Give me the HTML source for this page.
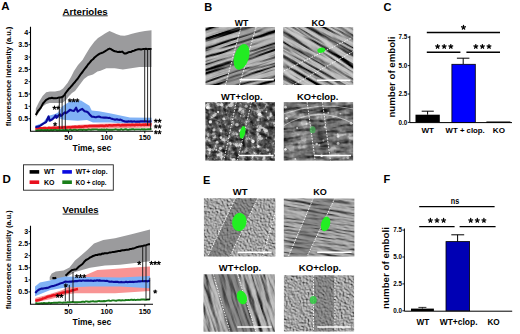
<!DOCTYPE html>
<html><head><meta charset="utf-8"><style>
html,body{margin:0;padding:0;background:#fff;width:520px;height:334px;overflow:hidden}
svg{display:block}
</style></head><body>
<svg width="520" height="334" viewBox="0 0 520 334">
<defs><filter id="blur06" x="-20%" y="-20%" width="140%" height="140%"><feGaussianBlur stdDeviation="0.55"/></filter><clipPath id="c1"><rect x="205.5" y="27" width="69.5" height="58"/></clipPath><filter id="f1" x="0" y="0" width="1" height="1" color-interpolation-filters="sRGB"><feTurbulence type="fractalNoise" baseFrequency="0.012 0.2" numOctaves="5" seed="3" result="n"/><feDiffuseLighting in="n" surfaceScale="4" diffuseConstant="1" lighting-color="#fff"><feDistantLight azimuth="135" elevation="50"/></feDiffuseLighting><feComponentTransfer><feFuncR type="linear" slope="1.165" intercept="-0.300"/><feFuncG type="linear" slope="1.165" intercept="-0.300"/><feFuncB type="linear" slope="1.165" intercept="-0.300"/></feComponentTransfer></filter><clipPath id="c2"><rect x="283.2" y="27" width="70" height="58"/></clipPath><filter id="f2" x="0" y="0" width="1" height="1" color-interpolation-filters="sRGB"><feTurbulence type="fractalNoise" baseFrequency="0.012 0.2" numOctaves="5" seed="5" result="n"/><feDiffuseLighting in="n" surfaceScale="4" diffuseConstant="1" lighting-color="#fff"><feDistantLight azimuth="135" elevation="50"/></feDiffuseLighting><feComponentTransfer><feFuncR type="linear" slope="1.049" intercept="-0.160"/><feFuncG type="linear" slope="1.049" intercept="-0.160"/><feFuncB type="linear" slope="1.049" intercept="-0.160"/></feComponentTransfer></filter><clipPath id="c3"><rect x="205.5" y="102.2" width="69.5" height="58.2"/></clipPath><filter id="f3" x="0" y="0" width="1" height="1" color-interpolation-filters="sRGB"><feTurbulence type="fractalNoise" baseFrequency="0.15 0.15" numOctaves="3" seed="7" result="n"/><feDiffuseLighting in="n" surfaceScale="3" diffuseConstant="1" lighting-color="#fff"><feDistantLight azimuth="135" elevation="45"/></feDiffuseLighting><feComponentTransfer><feFuncR type="linear" slope="0.890" intercept="-0.201"/><feFuncG type="linear" slope="0.890" intercept="-0.201"/><feFuncB type="linear" slope="0.890" intercept="-0.201"/></feComponentTransfer></filter><filter id="t3" x="0" y="0" width="1" height="1" color-interpolation-filters="sRGB"><feTurbulence type="fractalNoise" baseFrequency="0.18 0.18" numOctaves="3" seed="31"/><feColorMatrix type="matrix" values="2.5 0 0 0 -0.75 2.5 0 0 0 -0.75 2.5 0 0 0 -0.75 0 0 0 0 1"/><feComponentTransfer><feFuncR type="table" tableValues="0.1 0.15 0.22 0.3 0.42 0.65 0.95"/><feFuncG type="table" tableValues="0.1 0.15 0.22 0.3 0.42 0.65 0.95"/><feFuncB type="table" tableValues="0.1 0.15 0.22 0.3 0.42 0.65 0.95"/></feComponentTransfer></filter><clipPath id="c4"><rect x="283.8" y="102.2" width="69.3" height="58.2"/></clipPath><filter id="f4" x="0" y="0" width="1" height="1" color-interpolation-filters="sRGB"><feTurbulence type="fractalNoise" baseFrequency="0.04 0.2" numOctaves="4" seed="9" result="n"/><feDiffuseLighting in="n" surfaceScale="3" diffuseConstant="1" lighting-color="#fff"><feDistantLight azimuth="135" elevation="50"/></feDiffuseLighting><feComponentTransfer><feFuncR type="linear" slope="1.109" intercept="-0.373"/><feFuncG type="linear" slope="1.109" intercept="-0.373"/><feFuncB type="linear" slope="1.109" intercept="-0.373"/></feComponentTransfer></filter><filter id="t4" x="0" y="0" width="1" height="1" color-interpolation-filters="sRGB"><feTurbulence type="fractalNoise" baseFrequency="0.1 0.1" numOctaves="3" seed="33"/><feColorMatrix type="matrix" values="2.5 0 0 0 -0.75 2.5 0 0 0 -0.75 2.5 0 0 0 -0.75 0 0 0 0 1"/><feComponentTransfer><feFuncR type="table" tableValues="0.15 0.22 0.3 0.4 0.5 0.65 0.9"/><feFuncG type="table" tableValues="0.15 0.22 0.3 0.4 0.5 0.65 0.9"/><feFuncB type="table" tableValues="0.15 0.22 0.3 0.4 0.5 0.65 0.9"/></feComponentTransfer></filter><clipPath id="c5"><rect x="203.9" y="198.2" width="71.5" height="58.2"/></clipPath><filter id="f5" x="0" y="0" width="1" height="1" color-interpolation-filters="sRGB"><feTurbulence type="fractalNoise" baseFrequency="0.6 0.6" numOctaves="3" seed="11" result="n"/><feDiffuseLighting in="n" surfaceScale="1.5" diffuseConstant="1" lighting-color="#fff"><feDistantLight azimuth="135" elevation="55"/></feDiffuseLighting><feComponentTransfer><feFuncR type="linear" slope="1.008" intercept="-0.182"/><feFuncG type="linear" slope="1.008" intercept="-0.182"/><feFuncB type="linear" slope="1.008" intercept="-0.182"/></feComponentTransfer></filter><clipPath id="c6"><rect x="283.8" y="198.5" width="70.6" height="57.9"/></clipPath><filter id="f6" x="0" y="0" width="1" height="1" color-interpolation-filters="sRGB"><feTurbulence type="fractalNoise" baseFrequency="0.03 0.5" numOctaves="4" seed="13" result="n"/><feDiffuseLighting in="n" surfaceScale="3" diffuseConstant="1" lighting-color="#fff"><feDistantLight azimuth="135" elevation="50"/></feDiffuseLighting><feComponentTransfer><feFuncR type="linear" slope="0.692" intercept="0.099"/><feFuncG type="linear" slope="0.692" intercept="0.099"/><feFuncB type="linear" slope="0.692" intercept="0.099"/></feComponentTransfer></filter><clipPath id="c7"><rect x="203.5" y="274.3" width="71.4" height="57.4"/></clipPath><filter id="f7" x="0" y="0" width="1" height="1" color-interpolation-filters="sRGB"><feTurbulence type="fractalNoise" baseFrequency="0.025 0.25" numOctaves="4" seed="15" result="n"/><feDiffuseLighting in="n" surfaceScale="3" diffuseConstant="1" lighting-color="#fff"><feDistantLight azimuth="135" elevation="50"/></feDiffuseLighting><feComponentTransfer><feFuncR type="linear" slope="0.859" intercept="-0.022"/><feFuncG type="linear" slope="0.859" intercept="-0.022"/><feFuncB type="linear" slope="0.859" intercept="-0.022"/></feComponentTransfer></filter><clipPath id="c8"><rect x="283.9" y="275.2" width="70.2" height="56.4"/></clipPath><filter id="f8" x="0" y="0" width="1" height="1" color-interpolation-filters="sRGB"><feTurbulence type="fractalNoise" baseFrequency="0.6 0.6" numOctaves="3" seed="17" result="n"/><feDiffuseLighting in="n" surfaceScale="1.5" diffuseConstant="1" lighting-color="#fff"><feDistantLight azimuth="135" elevation="55"/></feDiffuseLighting><feComponentTransfer><feFuncR type="linear" slope="1.023" intercept="-0.195"/><feFuncG type="linear" slope="1.023" intercept="-0.195"/><feFuncB type="linear" slope="1.023" intercept="-0.195"/></feComponentTransfer></filter></defs>
<rect width="520" height="334" fill="#fff"/>
<text x="1.2" y="10.3" font-size="11.5" text-anchor="start" font-family="Liberation Sans, sans-serif" font-weight="bold" >A</text>
<text x="2.5" y="183.2" font-size="11.5" text-anchor="start" font-family="Liberation Sans, sans-serif" font-weight="bold" >D</text>
<text x="204.2" y="10.8" font-size="11" text-anchor="start" font-family="Liberation Sans, sans-serif" font-weight="bold" >B</text>
<text x="203.0" y="184.4" font-size="11" text-anchor="start" font-family="Liberation Sans, sans-serif" font-weight="bold" >E</text>
<text x="383.6" y="10.9" font-size="11" text-anchor="start" font-family="Liberation Sans, sans-serif" font-weight="bold" >C</text>
<text x="383.6" y="183.2" font-size="11" text-anchor="start" font-family="Liberation Sans, sans-serif" font-weight="bold" >F</text>
<polygon points="35.8,108.5 39.0,102.0 42.6,96.0 46.2,92.3 50.0,91.4 55.0,91.4 60.0,90.5 63.0,88.5 67.5,83.0 71.0,77.0 74.0,71.0 78.0,65.0 82.5,60.0 86.0,54.0 90.0,47.5 94.5,41.5 98.0,38.0 102.0,35.5 105.0,33.5 109.5,31.0 113.0,32.5 116.3,34.1 120.5,35.5 124.5,35.7 128.0,35.0 131.1,34.1 135.0,33.0 139.4,31.9 145.0,31.0 151.5,30.3 151.5,67.0 139.4,67.0 131.1,68.2 122.9,69.5 114.7,68.2 106.4,68.2 100.5,70.7 97.4,71.5 93.0,74.5 88.0,76.0 84.0,79.0 79.5,84.9 75.0,90.9 72.0,93.0 69.0,96.0 66.0,100.0 62.3,103.1 55.0,103.1 49.8,103.1 46.2,104.0 42.6,106.5 38.0,114.0 35.8,117.0" fill="#9b9b9d" fill-opacity="1" stroke="none"/>
<polygon points="35.4,125.7 43.0,122.5 48.0,116.0 55.0,114.0 58.0,112.5 62.0,106.5 65.9,104.0 70.7,101.0 77.8,100.4 81.0,100.4 84.6,102.8 89.4,105.8 91.7,110.6 98.9,111.2 110.9,113.6 122.8,116.0 130.0,117.5 151.5,117.8 151.5,123.7 125.0,123.7 110.9,122.5 93.0,122.5 87.0,120.1 77.8,120.7 65.9,120.1 62.0,119.5 58.0,117.5 55.0,118.5 48.0,121.5 43.0,125.0 35.4,127.7" fill="#80b2f6" fill-opacity="1" stroke="none"/>
<polygon points="35.4,127.2 80.0,124.8 100.0,123.8 125.0,123.3 151.5,122.8 151.5,127.5 80.0,129.0 35.4,130.0" fill="#f89494" fill-opacity="1" stroke="none"/>
<polyline points="35.8,115.0 38.0,111.0 39.4,109.5 40.8,107.6 43.0,103.5 44.6,101.7 46.2,99.8 47.6,99.1 49.0,98.3 50.5,98.3 52.0,97.8 53.3,98.2 54.7,98.3 56.0,98.2 57.3,98.0 58.7,97.6 60.0,97.5 61.5,97.3 63.0,96.5 64.5,94.8 66.0,92.5 67.5,90.6 69.0,88.7 70.5,87.2 72.0,85.5 73.5,83.7 75.0,82.0 76.2,80.4 77.5,79.0 79.5,76.0 81.0,73.8 82.5,72.0 84.0,69.8 85.4,68.0 86.7,66.5 88.0,64.5 89.7,62.6 91.4,60.5 93.0,59.3 94.5,57.5 95.7,56.6 97.0,55.5 98.2,54.7 99.8,53.6 101.5,53.0 103.2,52.3 104.8,51.4 107.0,50.0 108.3,49.1 109.7,48.6 111.0,49.1 112.2,50.0 113.5,50.7 115.0,51.3 116.5,51.6 118.0,52.1 119.4,51.7 120.7,52.0 122.1,51.6 124.4,53.6 125.7,53.5 127.0,53.0 128.3,52.3 129.6,52.1 131.1,51.9 132.7,50.9 134.2,50.7 135.6,50.0 136.9,49.6 138.3,49.2 139.7,49.2 141.1,49.5 142.8,49.1 144.6,49.0 146.0,48.7 147.4,49.3 148.7,48.9 150.1,48.9 151.5,49.0" fill="none" stroke="#000" stroke-width="2.0" stroke-linejoin="round" stroke-linecap="butt"/>
<polyline points="35.4,128.6 36.6,128.5 37.8,128.5 39.0,128.3 40.3,128.2 41.5,128.3 42.7,128.3 43.9,128.1 45.1,128.0 46.4,128.4 47.6,128.4 48.8,127.8 50.0,128.1 51.2,128.3 52.4,128.0 53.6,127.7 54.8,128.0 56.0,128.0 57.2,128.0 58.4,127.5 59.6,127.7 60.8,127.8 62.0,127.5 63.2,127.7 64.4,127.2 65.6,127.6 66.8,127.6 68.0,127.3 69.2,127.2 70.4,127.4 71.6,127.2 72.8,127.0 74.0,127.0 75.2,126.8 76.4,127.0 77.6,127.1 78.8,126.5 80.0,126.7 81.2,126.7 82.5,126.7 83.8,126.5 85.0,126.2 86.2,126.3 87.5,126.4 88.8,126.1 90.0,126.0 91.2,126.0 92.5,125.9 93.8,126.1 95.0,126.1 96.2,125.9 97.5,125.9 98.8,126.1 100.0,125.8 101.2,125.8 102.5,125.7 103.8,125.9 105.0,125.9 106.2,125.4 107.5,125.8 108.8,125.3 110.0,125.3 111.2,125.6 112.5,125.4 113.8,125.2 115.0,125.2 116.2,125.2 117.5,125.1 118.8,125.0 120.0,125.4 121.2,125.4 122.5,125.0 123.8,125.3 125.0,125.1 126.2,125.3 127.4,124.9 128.6,125.0 129.8,125.0 131.0,125.2 132.2,124.7 133.4,124.9 134.6,125.2 135.8,124.8 137.0,124.7 138.2,124.9 139.5,124.6 140.7,125.0 141.9,124.9 143.1,124.6 144.3,125.0 145.5,124.5 146.7,124.7 147.9,124.7 149.1,124.7 150.3,124.4 151.5,124.6" fill="none" stroke="#e8141e" stroke-width="2.5" stroke-linejoin="round" stroke-linecap="butt"/>
<polyline points="35.4,130.3 36.6,130.6 37.8,130.3 39.0,130.4 40.2,130.2 41.4,130.0 42.6,130.1 43.8,130.3 45.0,129.9 46.2,130.5 47.5,129.9 48.7,130.3 49.9,130.2 51.1,129.8 52.3,130.2 53.5,130.0 54.7,129.9 55.9,129.8 57.1,130.3 58.3,130.1 59.5,129.8 60.7,130.1 61.9,130.1 63.1,130.0 64.3,130.1 65.5,130.0 66.7,129.8 67.9,130.1 69.2,129.9 70.4,129.6 71.6,130.1 72.8,130.0 74.0,129.8 75.2,129.6 76.4,130.0 77.6,130.1 78.8,129.8 80.0,129.8 81.2,129.6 82.4,130.0 83.6,129.7 84.8,129.9 86.1,130.0 87.3,129.9 88.5,129.5 89.7,129.6 90.9,129.9 92.1,129.5 93.3,129.5 94.5,129.4 95.8,129.4 97.0,129.4 98.2,129.9 99.4,129.6 100.6,129.7 101.8,129.5 103.0,129.9 104.2,129.5 105.4,129.8 106.7,129.3 107.9,129.7 109.1,129.7 110.3,129.6 111.5,129.8 112.7,129.7 113.9,129.6 115.1,129.3 116.4,129.4 117.6,129.8 118.8,129.7 120.0,129.8 121.2,129.2 122.4,129.7 123.6,129.7 124.8,129.3 126.1,129.2 127.3,129.8 128.5,129.8 129.7,129.5 130.9,129.5 132.1,129.2 133.3,129.2 134.5,129.7 135.7,129.4 137.0,129.4 138.2,129.4 139.4,129.4 140.6,129.6 141.8,129.1 143.0,129.5 144.2,129.3 145.4,129.5 146.7,129.4 147.9,129.3 149.1,129.3 150.3,129.2 151.5,129.3" fill="none" stroke="#1a7a1a" stroke-width="1.9" stroke-linejoin="round" stroke-linecap="butt"/>
<polyline points="35.4,126.7 36.6,126.9 37.8,126.6 39.0,126.4 40.4,125.6 41.8,124.7 43.2,123.7 44.7,122.8 46.1,122.0 47.9,118.0 48.6,116.4 49.7,120.7 51.5,119.8 53.3,118.4 54.5,117.0 55.7,115.4 56.5,117.8 58.2,115.8 59.9,114.2 61.0,116.0 62.2,115.0 63.5,113.5 64.7,112.4 66.0,113.2 67.3,112.1 68.6,111.2 69.9,109.7 71.8,110.5 74.0,111.0 76.1,107.7 77.7,111.6 80.0,110.0 82.3,108.9 84.6,111.2 85.8,111.5 87.0,111.8 88.2,112.7 89.4,114.2 91.7,116.6 93.5,116.7 95.3,117.2 96.5,117.1 97.7,116.7 98.9,116.6 100.7,117.3 102.5,117.5 104.1,117.6 105.7,117.5 107.3,117.8 108.5,118.0 109.7,117.9 110.9,118.4 112.7,119.1 114.5,119.6 115.7,119.6 116.9,119.3 118.1,119.8 119.3,119.9 120.5,119.6 122.8,120.7 125.0,121.5 126.2,121.6 127.4,121.6 128.6,121.4 129.8,121.5 131.0,121.4 132.2,121.6 133.4,121.5 134.6,121.4 135.8,121.7 137.0,121.6 138.2,121.6 139.5,121.6 140.7,121.4 141.9,121.4 143.1,121.3 144.3,121.6 145.5,121.2 146.7,121.4 147.9,121.5 149.1,121.6 150.3,121.4 151.5,121.3" fill="none" stroke="#0a0a9c" stroke-width="2.1" stroke-linejoin="round" stroke-linecap="butt"/>
<line x1="59.3" y1="97.6" x2="59.3" y2="128.5" stroke="#111" stroke-width="0.9"/>
<line x1="62.1" y1="97.4" x2="62.1" y2="128.5" stroke="#111" stroke-width="0.9"/>
<line x1="65.3" y1="94.2" x2="65.3" y2="130" stroke="#111" stroke-width="0.9"/>
<line x1="144.7" y1="49" x2="144.7" y2="121.5" stroke="#111" stroke-width="0.9"/>
<line x1="147.6" y1="48.8" x2="147.6" y2="125.5" stroke="#111" stroke-width="0.9"/>
<line x1="150.6" y1="48.6" x2="150.6" y2="129.5" stroke="#111" stroke-width="0.9"/>
<path d="M30.5,26.8 V131.2 H153" fill="none" stroke="#000" stroke-width="1.1"/>
<line x1="28.6" y1="32.4" x2="30.5" y2="32.4" stroke="#000" stroke-width="0.9"/>
<text x="28.2" y="34.900000000000006" font-size="7.1" text-anchor="end" font-family="Liberation Sans, sans-serif" font-weight="bold" >4</text>
<line x1="28.6" y1="44.7" x2="30.5" y2="44.7" stroke="#000" stroke-width="0.9"/>
<text x="28.2" y="47.22500000000001" font-size="7.1" text-anchor="end" font-family="Liberation Sans, sans-serif" font-weight="bold" >3.5</text>
<line x1="28.6" y1="57.1" x2="30.5" y2="57.1" stroke="#000" stroke-width="0.9"/>
<text x="28.2" y="59.55000000000001" font-size="7.1" text-anchor="end" font-family="Liberation Sans, sans-serif" font-weight="bold" >3</text>
<line x1="28.6" y1="69.4" x2="30.5" y2="69.4" stroke="#000" stroke-width="0.9"/>
<text x="28.2" y="71.875" font-size="7.1" text-anchor="end" font-family="Liberation Sans, sans-serif" font-weight="bold" >2.5</text>
<line x1="28.6" y1="81.7" x2="30.5" y2="81.7" stroke="#000" stroke-width="0.9"/>
<text x="28.2" y="84.2" font-size="7.1" text-anchor="end" font-family="Liberation Sans, sans-serif" font-weight="bold" >2</text>
<line x1="28.6" y1="94.0" x2="30.5" y2="94.0" stroke="#000" stroke-width="0.9"/>
<text x="28.2" y="96.525" font-size="7.1" text-anchor="end" font-family="Liberation Sans, sans-serif" font-weight="bold" >1.5</text>
<line x1="28.6" y1="106.3" x2="30.5" y2="106.3" stroke="#000" stroke-width="0.9"/>
<text x="28.2" y="108.85" font-size="7.1" text-anchor="end" font-family="Liberation Sans, sans-serif" font-weight="bold" >1</text>
<line x1="28.6" y1="118.7" x2="30.5" y2="118.7" stroke="#000" stroke-width="0.9"/>
<text x="28.2" y="121.175" font-size="7.1" text-anchor="end" font-family="Liberation Sans, sans-serif" font-weight="bold" >0.5</text>
<line x1="68.5" y1="131" x2="68.5" y2="133.3" stroke="#000" stroke-width="0.9"/>
<text x="68.475" y="140.2" font-size="7.4" text-anchor="middle" font-family="Liberation Sans, sans-serif" font-weight="bold" >50</text>
<line x1="106.6" y1="131" x2="106.6" y2="133.3" stroke="#000" stroke-width="0.9"/>
<text x="106.64999999999999" y="140.2" font-size="7.4" text-anchor="middle" font-family="Liberation Sans, sans-serif" font-weight="bold" >100</text>
<line x1="144.8" y1="131" x2="144.8" y2="133.3" stroke="#000" stroke-width="0.9"/>
<text x="144.825" y="140.2" font-size="7.4" text-anchor="middle" font-family="Liberation Sans, sans-serif" font-weight="bold" >150</text>
<text x="72.6" y="150.7" font-size="8.7" text-anchor="start" textLength="38.6" lengthAdjust="spacingAndGlyphs" font-family="Liberation Sans, sans-serif" font-weight="bold" >Time, sec</text>
<text transform="translate(10.7,76.4) rotate(-90)" x="0" y="0" font-size="7.4" text-anchor="middle" textLength="99.5" lengthAdjust="spacingAndGlyphs" font-family="Liberation Sans, sans-serif" font-weight="bold">fluorescence intensity (a.u.)</text>
<text x="62.6" y="14.8" font-size="9.4" text-anchor="start" textLength="45.1" lengthAdjust="spacingAndGlyphs" font-family="Liberation Sans, sans-serif" font-weight="bold" >Arterioles</text>
<line x1="62.6" y1="15.8" x2="107.7" y2="15.8" stroke="#000" stroke-width="0.8"/>
<path d="M54.45,107.80L54.45,106.15M54.45,107.80L56.02,107.29M54.45,107.80L55.42,109.13M54.45,107.80L53.48,109.13M54.45,107.80L52.88,107.29" stroke="#000" stroke-width="1.1" stroke-linecap="round" fill="none"/>
<path d="M58.15,107.80L58.15,106.15M58.15,107.80L59.72,107.29M58.15,107.80L59.12,109.13M58.15,107.80L57.18,109.13M58.15,107.80L56.58,107.29" stroke="#000" stroke-width="1.1" stroke-linecap="round" fill="none"/>
<path d="M55.10,124.30L55.10,122.65M55.10,124.30L56.67,123.79M55.10,124.30L56.07,125.63M55.10,124.30L54.13,125.63M55.10,124.30L53.53,123.79" stroke="#000" stroke-width="1.1" stroke-linecap="round" fill="none"/>
<path d="M69.90,100.40L69.90,98.75M69.90,100.40L71.47,99.89M69.90,100.40L70.87,101.73M69.90,100.40L68.93,101.73M69.90,100.40L68.33,99.89" stroke="#000" stroke-width="1.1" stroke-linecap="round" fill="none"/>
<path d="M73.60,100.40L73.60,98.75M73.60,100.40L75.17,99.89M73.60,100.40L74.57,101.73M73.60,100.40L72.63,101.73M73.60,100.40L72.03,99.89" stroke="#000" stroke-width="1.1" stroke-linecap="round" fill="none"/>
<path d="M77.30,100.40L77.30,98.75M77.30,100.40L78.87,99.89M77.30,100.40L78.27,101.73M77.30,100.40L76.33,101.73M77.30,100.40L75.73,99.89" stroke="#000" stroke-width="1.1" stroke-linecap="round" fill="none"/>
<path d="M155.85,120.80L155.85,119.15M155.85,120.80L157.42,120.29M155.85,120.80L156.82,122.13M155.85,120.80L154.88,122.13M155.85,120.80L154.28,120.29" stroke="#000" stroke-width="1.1" stroke-linecap="round" fill="none"/>
<path d="M159.55,120.80L159.55,119.15M159.55,120.80L161.12,120.29M159.55,120.80L160.52,122.13M159.55,120.80L158.58,122.13M159.55,120.80L157.98,120.29" stroke="#000" stroke-width="1.1" stroke-linecap="round" fill="none"/>
<path d="M155.85,126.50L155.85,124.85M155.85,126.50L157.42,125.99M155.85,126.50L156.82,127.83M155.85,126.50L154.88,127.83M155.85,126.50L154.28,125.99" stroke="#000" stroke-width="1.1" stroke-linecap="round" fill="none"/>
<path d="M159.55,126.50L159.55,124.85M159.55,126.50L161.12,125.99M159.55,126.50L160.52,127.83M159.55,126.50L158.58,127.83M159.55,126.50L157.98,125.99" stroke="#000" stroke-width="1.1" stroke-linecap="round" fill="none"/>
<path d="M155.85,132.30L155.85,130.65M155.85,132.30L157.42,131.79M155.85,132.30L156.82,133.63M155.85,132.30L154.88,133.63M155.85,132.30L154.28,131.79" stroke="#000" stroke-width="1.1" stroke-linecap="round" fill="none"/>
<path d="M159.55,132.30L159.55,130.65M159.55,132.30L161.12,131.79M159.55,132.30L160.52,133.63M159.55,132.30L158.58,133.63M159.55,132.30L157.98,131.79" stroke="#000" stroke-width="1.1" stroke-linecap="round" fill="none"/>
<rect x="23.5" y="164.8" width="89.8" height="25.4" fill="#fff" stroke="#222" stroke-width="0.9"/>
<rect x="29.6" y="170.1" width="9.6" height="3.6" fill="#000"/>
<rect x="62.3" y="170.1" width="9.6" height="3.6" fill="#0a0ae0"/>
<rect x="29.6" y="180.39999999999998" width="9.6" height="3.6" fill="#e8101e"/>
<rect x="62.3" y="180.39999999999998" width="9.6" height="3.6" fill="#1a7f1a"/>
<text x="44" y="174.1" font-size="7" text-anchor="start" font-family="Liberation Sans, sans-serif" font-weight="bold" >WT</text>
<text x="75.8" y="174.1" font-size="7" text-anchor="start" textLength="31.7" lengthAdjust="spacingAndGlyphs" font-family="Liberation Sans, sans-serif" font-weight="bold" >WT+ clop.</text>
<text x="44" y="185.4" font-size="7" text-anchor="start" font-family="Liberation Sans, sans-serif" font-weight="bold" >KO</text>
<text x="75.8" y="185.4" font-size="7" text-anchor="start" textLength="30.7" lengthAdjust="spacingAndGlyphs" font-family="Liberation Sans, sans-serif" font-weight="bold" >KO + clop.</text>
<polygon points="49.7,277.0 51.7,273.5 55.7,271.6 63.5,270.6 69.5,267.6 75.0,260.5 81.0,255.5 87.0,250.3 94.0,243.5 103.3,240.0 115.0,238.2 131.5,234.2 150.0,229.5 150.0,261.2 120.0,264.7 105.0,265.5 90.0,267.7 75.0,272.0 66.0,277.5 60.0,279.0 49.7,280.0" fill="#9b9b9d" fill-opacity="1" stroke="none"/>
<polygon points="35.3,298.0 45.8,295.2 56.3,292.0 61.6,290.2 66.0,288.2 72.0,284.0 78.0,279.0 87.0,274.5 97.4,270.0 109.4,269.2 130.0,267.7 150.0,266.4 150.0,291.0 115.0,293.3 75.0,293.3 66.0,294.5 60.0,296.5 50.0,299.2 35.3,302.3" fill="#f89494" fill-opacity="1" stroke="none"/>
<polygon points="35.0,286.4 39.9,282.4 49.7,280.5 55.7,278.5 65.5,276.5 90.0,277.0 120.0,277.5 150.0,276.0 150.0,288.3 120.0,286.4 90.0,286.4 65.5,287.4 49.7,290.3 35.0,296.2" fill="#80b2f6" fill-opacity="1" stroke="none"/>
<polyline points="35.3,300.9 36.6,300.4 37.9,300.2 39.2,300.1 40.5,299.5 41.8,299.2 43.1,298.4 44.5,298.1 45.8,297.6 47.1,296.9 48.4,296.5 49.7,296.3 51.0,296.0 52.3,295.5 53.6,295.1 55.0,295.3 56.3,294.7 57.6,294.1 59.0,293.8 60.3,293.6 61.6,293.0 63.0,292.6 64.4,292.4 65.8,292.0 67.2,291.5 68.6,291.7 70.0,291.2 71.3,290.7 72.7,290.3 74.0,290.0 75.3,289.6 76.7,289.3 78.0,289.0" fill="none" stroke="#e8141e" stroke-width="2.5" stroke-linejoin="round" stroke-linecap="butt"/>
<polyline points="35.3,303.5 36.5,303.2 37.8,303.6 39.0,303.5 40.3,303.4 41.5,303.1 42.7,303.5 44.0,303.0 45.2,303.2 46.5,303.1 47.7,303.3 48.9,302.7 50.2,303.2 51.4,303.0 52.6,302.9 53.9,302.7 55.1,302.8 56.4,302.6 57.6,302.8 58.8,302.4 60.1,302.5 61.3,302.6 62.6,302.7 63.8,302.5 65.0,302.6 66.3,302.6 67.5,302.2 68.8,302.4 70.0,302.2 71.2,302.1 72.4,302.0 73.6,302.1 74.9,302.2 76.1,302.1 77.3,302.2 78.5,302.1 79.7,302.1 80.9,302.1 82.2,301.7 83.4,301.7 84.6,302.0 85.8,301.4 87.0,301.4 88.2,301.8 89.5,301.8 90.7,301.5 91.9,301.4 93.1,301.1 94.3,301.6 95.5,301.5 96.8,301.5 98.0,301.1 99.2,301.0 100.4,301.3 101.6,301.3 102.8,301.3 104.1,301.0 105.3,301.2 106.5,300.9 107.7,300.6 108.9,300.5 110.1,300.9 111.4,300.7 112.6,300.4 113.8,300.4 115.0,300.6 116.2,300.8 117.4,300.4 118.6,300.3 119.8,300.2 121.0,300.6 122.2,300.2 123.4,300.4 124.7,300.4 125.9,300.0 127.1,300.1 128.3,299.9 129.5,300.1 130.7,299.8 131.9,299.7 133.1,300.1 134.3,299.7 135.5,300.1 136.7,299.9 137.9,299.7 139.1,299.9 140.3,299.7 141.6,299.5 142.8,299.5 144.0,299.5 145.2,299.7 146.4,299.7 147.6,299.5 148.8,299.5 150.0,299.3" fill="none" stroke="#1a7a1a" stroke-width="1.9" stroke-linejoin="round" stroke-linecap="butt"/>
<polyline points="52.4,278.5 53.7,278.0 55.0,278.2 56.3,277.8" fill="none" stroke="#000" stroke-width="2.0" stroke-linejoin="round" stroke-linecap="butt"/>
<polyline points="65.5,275.8 66.9,274.5 68.4,272.9 69.8,271.7 72.0,270.0 73.5,269.8 75.0,269.4 76.5,269.2 77.8,267.7 79.0,266.5 80.8,265.2 82.5,264.0 84.2,261.8 86.0,260.0 87.3,259.3 88.7,258.6 90.0,257.5 91.5,256.8 93.0,256.0 94.5,255.5 96.1,254.9 97.3,255.0 98.5,254.4 99.7,254.3 100.9,254.4 102.1,253.6 103.3,253.7 104.6,253.3 105.9,253.2 107.2,253.3 108.5,252.9 109.8,252.4 111.1,252.4 112.4,252.1 113.7,252.1 115.0,251.8 116.3,251.5 117.5,251.2 118.8,250.9 120.1,251.0 121.3,250.5 122.6,250.3 123.9,250.3 125.2,250.0 126.4,249.8 127.7,249.8 129.0,249.5 130.2,248.9 131.5,248.9 132.7,248.5 133.9,248.4 135.1,247.9 136.4,247.3 137.6,247.1 138.8,246.6 140.0,246.5 141.2,246.3 142.5,246.1 143.8,245.6 145.0,245.5 146.2,245.1 147.5,244.6 148.8,244.3 150.0,244.3" fill="none" stroke="#000" stroke-width="2.0" stroke-linejoin="round" stroke-linecap="butt"/>
<polyline points="35.3,293.0 36.6,291.5 37.9,290.3 39.2,289.5 40.5,289.0 41.8,288.5 43.2,288.6 44.5,288.3 45.8,288.1 47.1,287.9 48.4,287.7 49.7,287.0 51.0,286.4 52.3,286.1 53.6,286.0 55.0,285.4 56.3,285.1 57.6,284.6 59.0,284.0 60.3,283.4 61.6,283.1 62.9,282.7 64.2,282.1 65.5,281.5 67.0,281.8 68.5,281.8 70.0,281.6 71.2,281.8 72.5,281.2 73.8,281.5 75.0,281.1 76.2,281.1 77.5,281.1 78.8,280.7 80.0,280.6 81.2,280.9 82.4,280.5 83.6,280.5 84.8,280.7 86.1,280.6 87.3,280.6 88.5,280.5 89.7,280.7 90.9,280.4 92.1,280.8 93.3,280.9 94.5,280.5 95.8,280.7 97.0,280.3 98.2,280.6 99.4,280.4 100.6,280.6 101.8,280.7 103.0,280.7 104.2,280.7 105.4,281.0 106.6,280.8 107.8,281.1 109.0,281.6 110.3,281.7 111.5,281.6 112.7,281.7 113.9,282.0 115.1,281.9 116.3,281.9 117.5,281.8 118.7,282.2 120.0,282.2 121.2,281.9 122.5,282.3 123.7,282.3 125.0,282.1 126.2,281.8 127.5,282.3 128.7,282.0 130.0,281.7 131.2,282.0 132.5,281.7 133.7,282.1 135.0,281.8 136.2,281.8 137.5,281.6 138.8,281.3 140.0,281.4 141.2,281.3 142.5,281.1 143.8,281.2 145.0,281.1 146.2,281.1 147.5,281.4 148.8,280.8 150.0,281.0" fill="none" stroke="#0a0a9c" stroke-width="2.1" stroke-linejoin="round" stroke-linecap="butt"/>
<line x1="65.3" y1="284.9" x2="65.3" y2="301.5" stroke="#111" stroke-width="0.9"/>
<line x1="69.3" y1="284.9" x2="69.3" y2="301.5" stroke="#111" stroke-width="0.9"/>
<line x1="73.0" y1="271.8" x2="73.0" y2="302" stroke="#111" stroke-width="0.9"/>
<line x1="142.7" y1="245" x2="142.7" y2="281.8" stroke="#111" stroke-width="0.9"/>
<line x1="146" y1="244.8" x2="146" y2="299.5" stroke="#111" stroke-width="0.9"/>
<line x1="149.8" y1="277.8" x2="149.8" y2="299.5" stroke="#111" stroke-width="0.9"/>
<line x1="146" y1="299.5" x2="149.8" y2="299.5" stroke="#111" stroke-width="0.9"/>
<path d="M30.5,225.8 V304.2 H153" fill="none" stroke="#000" stroke-width="1.1"/>
<line x1="28.6" y1="231.6" x2="30.5" y2="231.6" stroke="#000" stroke-width="0.9"/>
<text x="28.2" y="234.11" font-size="7.1" text-anchor="end" font-family="Liberation Sans, sans-serif" font-weight="bold" >3</text>
<line x1="28.6" y1="243.7" x2="30.5" y2="243.7" stroke="#000" stroke-width="0.9"/>
<text x="28.2" y="246.175" font-size="7.1" text-anchor="end" font-family="Liberation Sans, sans-serif" font-weight="bold" >2.5</text>
<line x1="28.6" y1="255.7" x2="30.5" y2="255.7" stroke="#000" stroke-width="0.9"/>
<text x="28.2" y="258.24" font-size="7.1" text-anchor="end" font-family="Liberation Sans, sans-serif" font-weight="bold" >2</text>
<line x1="28.6" y1="267.8" x2="30.5" y2="267.8" stroke="#000" stroke-width="0.9"/>
<text x="28.2" y="270.305" font-size="7.1" text-anchor="end" font-family="Liberation Sans, sans-serif" font-weight="bold" >1.5</text>
<line x1="28.6" y1="279.9" x2="30.5" y2="279.9" stroke="#000" stroke-width="0.9"/>
<text x="28.2" y="282.37" font-size="7.1" text-anchor="end" font-family="Liberation Sans, sans-serif" font-weight="bold" >1</text>
<line x1="28.6" y1="291.9" x2="30.5" y2="291.9" stroke="#000" stroke-width="0.9"/>
<text x="28.2" y="294.435" font-size="7.1" text-anchor="end" font-family="Liberation Sans, sans-serif" font-weight="bold" >0.5</text>
<line x1="68.5" y1="304.2" x2="68.5" y2="306.5" stroke="#000" stroke-width="0.9"/>
<text x="68.475" y="313.6" font-size="7.4" text-anchor="middle" font-family="Liberation Sans, sans-serif" font-weight="bold" >50</text>
<line x1="106.6" y1="304.2" x2="106.6" y2="306.5" stroke="#000" stroke-width="0.9"/>
<text x="106.64999999999999" y="313.6" font-size="7.4" text-anchor="middle" font-family="Liberation Sans, sans-serif" font-weight="bold" >100</text>
<line x1="144.8" y1="304.2" x2="144.8" y2="306.5" stroke="#000" stroke-width="0.9"/>
<text x="144.825" y="313.6" font-size="7.4" text-anchor="middle" font-family="Liberation Sans, sans-serif" font-weight="bold" >150</text>
<text x="72.6" y="324.7" font-size="8.7" text-anchor="start" textLength="38.6" lengthAdjust="spacingAndGlyphs" font-family="Liberation Sans, sans-serif" font-weight="bold" >Time, sec</text>
<text transform="translate(10.7,259.7) rotate(-90)" x="0" y="0" font-size="7.4" text-anchor="middle" textLength="99" lengthAdjust="spacingAndGlyphs" font-family="Liberation Sans, sans-serif" font-weight="bold">fluorescence intensity (a.u.)</text>
<text x="62.6" y="212.9" font-size="9.4" text-anchor="start" textLength="35.9" lengthAdjust="spacingAndGlyphs" font-family="Liberation Sans, sans-serif" font-weight="bold" >Venules</text>
<line x1="62.6" y1="214.1" x2="98.5" y2="214.1" stroke="#000" stroke-width="0.8"/>
<path d="M57.75,295.90L57.75,294.25M57.75,295.90L59.32,295.39M57.75,295.90L58.72,297.23M57.75,295.90L56.78,297.23M57.75,295.90L56.18,295.39" stroke="#000" stroke-width="1.1" stroke-linecap="round" fill="none"/>
<path d="M61.45,295.90L61.45,294.25M61.45,295.90L63.02,295.39M61.45,295.90L62.42,297.23M61.45,295.90L60.48,297.23M61.45,295.90L59.88,295.39" stroke="#000" stroke-width="1.1" stroke-linecap="round" fill="none"/>
<path d="M65.80,285.40L65.80,283.75M65.80,285.40L67.37,284.89M65.80,285.40L66.77,286.73M65.80,285.40L64.83,286.73M65.80,285.40L64.23,284.89" stroke="#000" stroke-width="1.1" stroke-linecap="round" fill="none"/>
<path d="M76.80,276.20L76.80,274.55M76.80,276.20L78.37,275.69M76.80,276.20L77.77,277.53M76.80,276.20L75.83,277.53M76.80,276.20L75.23,275.69" stroke="#000" stroke-width="1.1" stroke-linecap="round" fill="none"/>
<path d="M80.50,276.20L80.50,274.55M80.50,276.20L82.07,275.69M80.50,276.20L81.47,277.53M80.50,276.20L79.53,277.53M80.50,276.20L78.93,275.69" stroke="#000" stroke-width="1.1" stroke-linecap="round" fill="none"/>
<path d="M84.20,276.20L84.20,274.55M84.20,276.20L85.77,275.69M84.20,276.20L85.17,277.53M84.20,276.20L83.23,277.53M84.20,276.20L82.63,275.69" stroke="#000" stroke-width="1.1" stroke-linecap="round" fill="none"/>
<path d="M139.20,263.00L139.20,261.35M139.20,263.00L140.77,262.49M139.20,263.00L140.17,264.33M139.20,263.00L138.23,264.33M139.20,263.00L137.63,262.49" stroke="#000" stroke-width="1.1" stroke-linecap="round" fill="none"/>
<path d="M151.40,263.00L151.40,261.35M151.40,263.00L152.97,262.49M151.40,263.00L152.37,264.33M151.40,263.00L150.43,264.33M151.40,263.00L149.83,262.49" stroke="#000" stroke-width="1.1" stroke-linecap="round" fill="none"/>
<path d="M155.10,263.00L155.10,261.35M155.10,263.00L156.67,262.49M155.10,263.00L156.07,264.33M155.10,263.00L154.13,264.33M155.10,263.00L153.53,262.49" stroke="#000" stroke-width="1.1" stroke-linecap="round" fill="none"/>
<path d="M158.80,263.00L158.80,261.35M158.80,263.00L160.37,262.49M158.80,263.00L159.77,264.33M158.80,263.00L157.83,264.33M158.80,263.00L157.23,262.49" stroke="#000" stroke-width="1.1" stroke-linecap="round" fill="none"/>
<path d="M155.20,291.60L155.20,289.95M155.20,291.60L156.77,291.09M155.20,291.60L156.17,292.93M155.20,291.60L154.23,292.93M155.20,291.60L153.63,291.09" stroke="#000" stroke-width="1.1" stroke-linecap="round" fill="none"/>
<path d="M409.8,35.9 V122.6 H512" fill="none" stroke="#000" stroke-width="1"/>
<line x1="407.8" y1="37.2" x2="409.8" y2="37.2" stroke="#000" stroke-width="0.9"/>
<text x="407.3" y="39.40000000000002" font-size="6.3" text-anchor="end" font-family="Liberation Sans, sans-serif" font-weight="bold" >7.5</text>
<line x1="407.8" y1="65.6" x2="409.8" y2="65.6" stroke="#000" stroke-width="0.9"/>
<text x="407.3" y="67.80000000000001" font-size="6.3" text-anchor="end" font-family="Liberation Sans, sans-serif" font-weight="bold" >5.0</text>
<line x1="407.8" y1="94.0" x2="409.8" y2="94.0" stroke="#000" stroke-width="0.9"/>
<text x="407.3" y="96.2" font-size="6.3" text-anchor="end" font-family="Liberation Sans, sans-serif" font-weight="bold" >2.5</text>
<line x1="407.8" y1="122.4" x2="409.8" y2="122.4" stroke="#000" stroke-width="0.9"/>
<text x="407.3" y="124.60000000000001" font-size="6.3" text-anchor="end" font-family="Liberation Sans, sans-serif" font-weight="bold" >0.0</text>
<text transform="translate(394.9,77.1) rotate(-90)" font-size="8.3" text-anchor="middle" textLength="81" lengthAdjust="spacingAndGlyphs" font-family="Liberation Sans, sans-serif" font-weight="bold">number of emboli</text>
<rect x="415.5" y="114.7" width="24.3" height="7.7" fill="#000"/>
<path d="M427.6,114.7 V111.2 M421.7,111.2 H433.8" stroke="#000" stroke-width="1"/>
<rect x="451.9" y="64.3" width="23.4" height="58.1" fill="#0000ff" stroke="#000" stroke-width="0.8"/>
<path d="M463.2,64 V58.2 M456.9,58.2 H469.4" stroke="#000" stroke-width="1"/>
<rect x="486.4" y="121.5" width="24" height="1.2" fill="#000"/>
<text x="427.7" y="132.7" font-size="8.1" text-anchor="middle" font-family="Liberation Sans, sans-serif" font-weight="bold" >WT</text>
<text x="465.2" y="132.7" font-size="8.1" text-anchor="middle" textLength="39.2" lengthAdjust="spacingAndGlyphs" font-family="Liberation Sans, sans-serif" font-weight="bold" >WT + clop.</text>
<text x="498.9" y="132.7" font-size="8.1" text-anchor="middle" font-family="Liberation Sans, sans-serif" font-weight="bold" >KO</text>
<line x1="426.8" y1="32.5" x2="500" y2="32.5" stroke="#000" stroke-width="1.4"/>
<line x1="426.8" y1="52.2" x2="460.4" y2="52.2" stroke="#000" stroke-width="1.4"/>
<line x1="466.4" y1="52.2" x2="500" y2="52.2" stroke="#000" stroke-width="1.4"/>
<path d="M463.50,27.40L463.50,25.40M463.50,27.40L465.40,26.78M463.50,27.40L464.68,29.02M463.50,27.40L462.32,29.02M463.50,27.40L461.60,26.78" stroke="#000" stroke-width="1.3" stroke-linecap="round" fill="none"/>
<path d="M437.60,46.60L437.60,44.60M437.60,46.60L439.50,45.98M437.60,46.60L438.78,48.22M437.60,46.60L436.42,48.22M437.60,46.60L435.70,45.98" stroke="#000" stroke-width="1.3" stroke-linecap="round" fill="none"/>
<path d="M444.20,46.60L444.20,44.60M444.20,46.60L446.10,45.98M444.20,46.60L445.38,48.22M444.20,46.60L443.02,48.22M444.20,46.60L442.30,45.98" stroke="#000" stroke-width="1.3" stroke-linecap="round" fill="none"/>
<path d="M450.80,46.60L450.80,44.60M450.80,46.60L452.70,45.98M450.80,46.60L451.98,48.22M450.80,46.60L449.62,48.22M450.80,46.60L448.90,45.98" stroke="#000" stroke-width="1.3" stroke-linecap="round" fill="none"/>
<path d="M475.80,46.60L475.80,44.60M475.80,46.60L477.70,45.98M475.80,46.60L476.98,48.22M475.80,46.60L474.62,48.22M475.80,46.60L473.90,45.98" stroke="#000" stroke-width="1.3" stroke-linecap="round" fill="none"/>
<path d="M482.40,46.60L482.40,44.60M482.40,46.60L484.30,45.98M482.40,46.60L483.58,48.22M482.40,46.60L481.22,48.22M482.40,46.60L480.50,45.98" stroke="#000" stroke-width="1.3" stroke-linecap="round" fill="none"/>
<path d="M489.00,46.60L489.00,44.60M489.00,46.60L490.90,45.98M489.00,46.60L490.18,48.22M489.00,46.60L487.82,48.22M489.00,46.60L487.10,45.98" stroke="#000" stroke-width="1.3" stroke-linecap="round" fill="none"/>
<path d="M404.4,228.5 V311.2 H512.2" fill="none" stroke="#000" stroke-width="1"/>
<line x1="402.4" y1="230.1" x2="404.4" y2="230.1" stroke="#000" stroke-width="0.9"/>
<text x="401.9" y="232.3" font-size="6.3" text-anchor="end" font-family="Liberation Sans, sans-serif" font-weight="bold" >7.5</text>
<line x1="402.4" y1="257.0" x2="404.4" y2="257.0" stroke="#000" stroke-width="0.9"/>
<text x="401.9" y="259.2" font-size="6.3" text-anchor="end" font-family="Liberation Sans, sans-serif" font-weight="bold" >5.0</text>
<line x1="402.4" y1="283.9" x2="404.4" y2="283.9" stroke="#000" stroke-width="0.9"/>
<text x="401.9" y="286.1" font-size="6.3" text-anchor="end" font-family="Liberation Sans, sans-serif" font-weight="bold" >2.5</text>
<line x1="402.4" y1="310.8" x2="404.4" y2="310.8" stroke="#000" stroke-width="0.9"/>
<text x="401.9" y="313.0" font-size="6.3" text-anchor="end" font-family="Liberation Sans, sans-serif" font-weight="bold" >0.0</text>
<text transform="translate(389.4,268) rotate(-90)" font-size="8.3" text-anchor="middle" textLength="82" lengthAdjust="spacingAndGlyphs" font-family="Liberation Sans, sans-serif" font-weight="bold">number of emboli</text>
<rect x="411" y="308.6" width="22.9" height="2.4" fill="#000"/>
<path d="M422.4,308.6 V307.4 M418.4,307.4 H426.4" stroke="#000" stroke-width="0.8"/>
<rect x="446" y="241.6" width="23.6" height="69.2" fill="#0000b4" stroke="#000" stroke-width="0.8"/>
<path d="M457.6,241.5 V234.8 M451.3,234.8 H464.2" stroke="#000" stroke-width="1"/>
<text x="422.9" y="324.9" font-size="8.2" text-anchor="middle" font-family="Liberation Sans, sans-serif" font-weight="bold" >WT</text>
<text x="458.6" y="324.9" font-size="8.2" text-anchor="middle" textLength="37.8" lengthAdjust="spacingAndGlyphs" font-family="Liberation Sans, sans-serif" font-weight="bold" >WT+clop.</text>
<text x="493.6" y="324.9" font-size="8.2" text-anchor="middle" font-family="Liberation Sans, sans-serif" font-weight="bold" >KO</text>
<line x1="419.2" y1="206.6" x2="494.6" y2="206.6" stroke="#000" stroke-width="1.4"/>
<line x1="419.2" y1="226.6" x2="454.6" y2="226.6" stroke="#000" stroke-width="1.4"/>
<line x1="459.6" y1="226.6" x2="495.6" y2="226.6" stroke="#000" stroke-width="1.4"/>
<text x="455" y="203.6" font-size="9.4" text-anchor="middle" textLength="8.4" lengthAdjust="spacingAndGlyphs" font-family="Liberation Sans, sans-serif" font-weight="bold">ns</text>
<path d="M430.40,220.50L430.40,218.50M430.40,220.50L432.30,219.88M430.40,220.50L431.58,222.12M430.40,220.50L429.22,222.12M430.40,220.50L428.50,219.88" stroke="#000" stroke-width="1.3" stroke-linecap="round" fill="none"/>
<path d="M437.00,220.50L437.00,218.50M437.00,220.50L438.90,219.88M437.00,220.50L438.18,222.12M437.00,220.50L435.82,222.12M437.00,220.50L435.10,219.88" stroke="#000" stroke-width="1.3" stroke-linecap="round" fill="none"/>
<path d="M443.60,220.50L443.60,218.50M443.60,220.50L445.50,219.88M443.60,220.50L444.78,222.12M443.60,220.50L442.42,222.12M443.60,220.50L441.70,219.88" stroke="#000" stroke-width="1.3" stroke-linecap="round" fill="none"/>
<path d="M470.70,220.50L470.70,218.50M470.70,220.50L472.60,219.88M470.70,220.50L471.88,222.12M470.70,220.50L469.52,222.12M470.70,220.50L468.80,219.88" stroke="#000" stroke-width="1.3" stroke-linecap="round" fill="none"/>
<path d="M477.30,220.50L477.30,218.50M477.30,220.50L479.20,219.88M477.30,220.50L478.48,222.12M477.30,220.50L476.12,222.12M477.30,220.50L475.40,219.88" stroke="#000" stroke-width="1.3" stroke-linecap="round" fill="none"/>
<path d="M483.90,220.50L483.90,218.50M483.90,220.50L485.80,219.88M483.90,220.50L485.08,222.12M483.90,220.50L482.72,222.12M483.90,220.50L482.00,219.88" stroke="#000" stroke-width="1.3" stroke-linecap="round" fill="none"/>
<g clip-path="url(#c1)">
<g transform="translate(240.25,56.0) rotate(-18)"><rect x="-60" y="-60" width="120" height="120" filter="url(#f1)"/></g>
<polygon points="241.0,27.0 256.0,27.0 239.5,85.0 225.5,85.0" fill="#7a7a7a" fill-opacity="0.45"/>

<line x1="241" y1="27" x2="225.5" y2="85" stroke="#fff" stroke-width="0.9" stroke-dasharray="1.6,1.2"/>
<line x1="256" y1="27" x2="239.5" y2="85" stroke="#fff" stroke-width="0.9" stroke-dasharray="1.6,1.2"/>
<ellipse cx="241.6" cy="56.9" rx="7.3" ry="13.2" transform="rotate(17 241.6 56.9)" fill="#22ec22" fill-opacity="1"/>
<line x1="239.5" y1="79.8" x2="273.8" y2="79.8" stroke="#fff" stroke-width="1.5"/>
</g>
<g clip-path="url(#c2)">
<g transform="translate(318.2,56.0) rotate(30)"><rect x="-60" y="-60" width="120" height="120" filter="url(#f2)"/></g>

<line x1="283.8" y1="70.9" x2="352" y2="37.7" stroke="#fff" stroke-width="0.9" stroke-dasharray="1.6,1.2"/>
<line x1="292.8" y1="85.2" x2="353.8" y2="51.1" stroke="#fff" stroke-width="0.9" stroke-dasharray="1.6,1.2"/>
<ellipse cx="321.3" cy="50.3" rx="4" ry="2.6" transform="rotate(-10 321.3 50.3)" fill="#22ee22" fill-opacity="1"/>
<line x1="317" y1="80.3" x2="350.5" y2="80.3" stroke="#fff" stroke-width="1.5"/>
</g>
<g clip-path="url(#c3)">
<g transform="translate(240.25,131.3) rotate(0)"><rect x="-60" y="-60" width="120" height="120" filter="url(#f3)"/></g>
<g transform="translate(240.25,131.3) rotate(0)" opacity="0.65"><rect x="-60" y="-60" width="120" height="120" filter="url(#t3)"/></g>
<g filter="url(#blur06)"><circle cx="217.0" cy="142.3" r="1.43" fill="#fff" fill-opacity="0.69"/><circle cx="220.5" cy="148.3" r="1.61" fill="#fff" fill-opacity="0.70"/><circle cx="240.6" cy="115.9" r="0.80" fill="#fff" fill-opacity="0.65"/><circle cx="246.2" cy="106.2" r="1.59" fill="#fff" fill-opacity="0.59"/><circle cx="221.7" cy="104.7" r="1.80" fill="#fff" fill-opacity="0.80"/><circle cx="266.3" cy="138.0" r="0.83" fill="#fff" fill-opacity="0.63"/><circle cx="240.1" cy="108.9" r="1.75" fill="#fff" fill-opacity="0.65"/><circle cx="216.3" cy="149.8" r="0.92" fill="#fff" fill-opacity="0.87"/><circle cx="237.0" cy="134.3" r="1.14" fill="#fff" fill-opacity="0.69"/><circle cx="218.5" cy="104.4" r="1.67" fill="#fff" fill-opacity="0.59"/><circle cx="259.7" cy="114.3" r="1.77" fill="#fff" fill-opacity="0.86"/><circle cx="258.0" cy="146.6" r="1.38" fill="#fff" fill-opacity="0.79"/><circle cx="214.0" cy="129.9" r="1.63" fill="#fff" fill-opacity="0.58"/><circle cx="269.7" cy="153.9" r="1.21" fill="#fff" fill-opacity="0.65"/><circle cx="236.9" cy="124.7" r="1.79" fill="#fff" fill-opacity="0.65"/><circle cx="207.4" cy="107.6" r="1.52" fill="#fff" fill-opacity="0.90"/><circle cx="240.0" cy="130.8" r="1.35" fill="#fff" fill-opacity="0.80"/><circle cx="220.9" cy="137.6" r="1.36" fill="#fff" fill-opacity="0.75"/><circle cx="218.1" cy="112.1" r="1.15" fill="#fff" fill-opacity="0.87"/><circle cx="229.6" cy="137.0" r="1.11" fill="#fff" fill-opacity="0.54"/><circle cx="210.1" cy="149.6" r="1.58" fill="#fff" fill-opacity="0.65"/><circle cx="253.0" cy="141.5" r="1.70" fill="#fff" fill-opacity="0.88"/><circle cx="233.8" cy="159.8" r="1.76" fill="#fff" fill-opacity="0.74"/><circle cx="266.9" cy="130.8" r="1.18" fill="#fff" fill-opacity="0.60"/><circle cx="266.4" cy="111.6" r="0.87" fill="#fff" fill-opacity="0.82"/><circle cx="259.3" cy="130.3" r="1.64" fill="#fff" fill-opacity="0.52"/><circle cx="223.4" cy="119.1" r="1.22" fill="#fff" fill-opacity="0.57"/><circle cx="210.3" cy="121.9" r="1.70" fill="#fff" fill-opacity="0.89"/><circle cx="257.3" cy="130.1" r="1.05" fill="#fff" fill-opacity="0.88"/><circle cx="242.0" cy="144.6" r="0.83" fill="#fff" fill-opacity="0.58"/></g>
<line x1="236.3" y1="102" x2="223.7" y2="161" stroke="#fff" stroke-width="0.9" stroke-dasharray="1.6,1.2"/>
<line x1="251.6" y1="102" x2="237.2" y2="161" stroke="#fff" stroke-width="0.9" stroke-dasharray="1.6,1.2"/>
<ellipse cx="242.6" cy="132.4" rx="2.7" ry="6.5" transform="rotate(12 242.6 132.4)" fill="#22ee22" fill-opacity="1"/>
<line x1="239" y1="155.6" x2="273.5" y2="155.6" stroke="#fff" stroke-width="1.5"/>
</g>
<g clip-path="url(#c4)">
<g transform="translate(318.45,131.3) rotate(-8)"><rect x="-60" y="-60" width="120" height="120" filter="url(#f4)"/></g>
<g transform="translate(318.45,131.3) rotate(0)" opacity="0.45"><rect x="-60" y="-60" width="120" height="120" filter="url(#t4)"/></g>
<g filter="url(#blur06)"><circle cx="347.9" cy="157.4" r="1.51" fill="#fff" fill-opacity="0.53"/><circle cx="324.8" cy="126.9" r="1.22" fill="#fff" fill-opacity="0.55"/><circle cx="297.1" cy="128.1" r="0.98" fill="#fff" fill-opacity="0.68"/><circle cx="285.5" cy="107.2" r="1.37" fill="#fff" fill-opacity="0.67"/><circle cx="319.3" cy="144.9" r="1.09" fill="#fff" fill-opacity="0.52"/><circle cx="338.1" cy="136.5" r="1.33" fill="#fff" fill-opacity="0.75"/><circle cx="351.1" cy="123.3" r="1.41" fill="#fff" fill-opacity="0.65"/><circle cx="323.4" cy="140.6" r="1.05" fill="#fff" fill-opacity="0.53"/><circle cx="316.7" cy="144.0" r="1.27" fill="#fff" fill-opacity="0.68"/><circle cx="328.3" cy="112.8" r="0.94" fill="#fff" fill-opacity="0.63"/><circle cx="340.3" cy="113.6" r="0.89" fill="#fff" fill-opacity="0.54"/><circle cx="286.5" cy="118.2" r="1.26" fill="#fff" fill-opacity="0.83"/><circle cx="306.7" cy="123.7" r="1.03" fill="#fff" fill-opacity="0.62"/><circle cx="337.7" cy="134.2" r="1.01" fill="#fff" fill-opacity="0.54"/><circle cx="338.1" cy="143.4" r="1.46" fill="#fff" fill-opacity="0.60"/><circle cx="321.6" cy="155.7" r="1.27" fill="#fff" fill-opacity="0.88"/><circle cx="295.4" cy="158.9" r="0.84" fill="#fff" fill-opacity="0.67"/><circle cx="285.4" cy="149.3" r="1.35" fill="#fff" fill-opacity="0.89"/></g><path d="M283,126 Q318,104 354,124 M283,114 Q320,101 354,109" stroke="#fff" stroke-opacity="0.55" stroke-width="0.9" fill="none"/>
<line x1="307.1" y1="102" x2="315.2" y2="161" stroke="#fff" stroke-width="0.9" stroke-dasharray="1.6,1.2"/>
<line x1="322.4" y1="102" x2="330.5" y2="161" stroke="#fff" stroke-width="0.9" stroke-dasharray="1.6,1.2"/>
<ellipse cx="312.6" cy="129.8" rx="3" ry="3.5" transform="rotate(0 312.6 129.8)" fill="#3fb04f" fill-opacity="0.7"/>
<line x1="314.3" y1="155.6" x2="351" y2="155.6" stroke="#fff" stroke-width="1.5"/>
</g>
<g clip-path="url(#c5)">
<g transform="translate(239.65,227.29999999999998) rotate(0)"><rect x="-60" y="-60" width="120" height="120" filter="url(#f5)"/></g>
<polygon points="235.5,198.0 257.8,198.0 229.9,257.0 207.6,257.0" fill="#555555" fill-opacity="0.45"/>

<line x1="235.5" y1="198" x2="207.6" y2="256.5" stroke="#fff" stroke-width="0.9" stroke-dasharray="1.6,1.2"/>
<line x1="257.8" y1="198" x2="229.9" y2="256.5" stroke="#fff" stroke-width="0.9" stroke-dasharray="1.6,1.2"/>
<line x1="275.5" y1="212" x2="262.5" y2="256.5" stroke="#fff" stroke-width="0.9" stroke-dasharray="1.6,1.2"/>
<ellipse cx="239.3" cy="222" rx="7.2" ry="9.2" transform="rotate(10 239.3 222)" fill="#22ee22" fill-opacity="1"/>
<line x1="237.5" y1="252.3" x2="271.6" y2="252.3" stroke="#fff" stroke-width="1.5"/>
</g>
<g clip-path="url(#c6)">
<g transform="translate(319.1,227.45) rotate(8)"><rect x="-60" y="-60" width="120" height="120" filter="url(#f6)"/></g>
<polygon points="313.5,198.0 334.9,198.0 307.0,257.0 288.4,257.0" fill="#555555" fill-opacity="0.4"/>

<line x1="313.5" y1="198" x2="288.4" y2="256.5" stroke="#fff" stroke-width="0.9" stroke-dasharray="1.6,1.2"/>
<line x1="334.9" y1="198" x2="307" y2="256.5" stroke="#fff" stroke-width="0.9" stroke-dasharray="1.6,1.2"/>
<ellipse cx="325.6" cy="223.9" rx="4.5" ry="7.5" transform="rotate(15 325.6 223.9)" fill="#22ee22" fill-opacity="1"/>
<line x1="317.2" y1="252.2" x2="351.6" y2="252.2" stroke="#fff" stroke-width="1.5"/>
</g>
<g clip-path="url(#c7)">
<g transform="translate(239.2,303.0) rotate(72)"><rect x="-60" y="-60" width="120" height="120" filter="url(#f7)"/></g>
<polygon points="213.2,274.0 237.3,274.0 255.9,332.0 229.9,332.0" fill="#555555" fill-opacity="0.45"/>

<line x1="213.2" y1="274" x2="229.9" y2="331.5" stroke="#fff" stroke-width="0.9" stroke-dasharray="1.6,1.2"/>
<line x1="237.3" y1="274" x2="255.9" y2="331.5" stroke="#fff" stroke-width="0.9" stroke-dasharray="1.6,1.2"/>
<ellipse cx="241.9" cy="297.4" rx="4.8" ry="7.2" transform="rotate(-22 241.9 297.4)" fill="#22ee22" fill-opacity="1"/>
<line x1="237.3" y1="327" x2="271.7" y2="327" stroke="#fff" stroke-width="1.5"/>
</g>
<g clip-path="url(#c8)">
<g transform="translate(319.0,303.4) rotate(0)"><rect x="-60" y="-60" width="120" height="120" filter="url(#f8)"/></g>
<polygon points="313.5,275.0 334.9,275.0 334.9,332.0 313.5,332.0" fill="#555555" fill-opacity="0.4"/>

<line x1="313.5" y1="275" x2="313.5" y2="331.5" stroke="#fff" stroke-width="0.9" stroke-dasharray="1.6,1.2"/>
<line x1="334.9" y1="275" x2="334.9" y2="331.5" stroke="#fff" stroke-width="0.9" stroke-dasharray="1.6,1.2"/>
<ellipse cx="313.3" cy="299.9" rx="3.5" ry="4" transform="rotate(0 313.3 299.9)" fill="#33cc44" fill-opacity="0.85"/>
<line x1="317.2" y1="327" x2="350.7" y2="327" stroke="#fff" stroke-width="1.5"/>
</g>
<text x="241.5" y="25.5" font-size="9.5" text-anchor="middle" textLength="13.6" lengthAdjust="spacingAndGlyphs" font-family="Liberation Sans, sans-serif" font-weight="bold" >WT</text>
<text x="318.2" y="25.5" font-size="9.5" text-anchor="middle" textLength="13.6" lengthAdjust="spacingAndGlyphs" font-family="Liberation Sans, sans-serif" font-weight="bold" >KO</text>
<text x="241.8" y="100.1" font-size="9.5" text-anchor="middle" textLength="41.6" lengthAdjust="spacingAndGlyphs" font-family="Liberation Sans, sans-serif" font-weight="bold" >WT+clop.</text>
<text x="317.7" y="100.1" font-size="9.5" text-anchor="middle" textLength="41.3" lengthAdjust="spacingAndGlyphs" font-family="Liberation Sans, sans-serif" font-weight="bold" >KO+clop.</text>
<text x="240.1" y="195.3" font-size="9.5" text-anchor="middle" textLength="14.8" lengthAdjust="spacingAndGlyphs" font-family="Liberation Sans, sans-serif" font-weight="bold" >WT</text>
<text x="320" y="194.8" font-size="9.5" text-anchor="middle" textLength="13.6" lengthAdjust="spacingAndGlyphs" font-family="Liberation Sans, sans-serif" font-weight="bold" >KO</text>
<text x="240" y="270.5" font-size="9.5" text-anchor="middle" textLength="42.3" lengthAdjust="spacingAndGlyphs" font-family="Liberation Sans, sans-serif" font-weight="bold" >WT+clop.</text>
<text x="320" y="270.5" font-size="9.5" text-anchor="middle" textLength="42.3" lengthAdjust="spacingAndGlyphs" font-family="Liberation Sans, sans-serif" font-weight="bold" >KO+clop.</text>
</svg>
</body></html>
